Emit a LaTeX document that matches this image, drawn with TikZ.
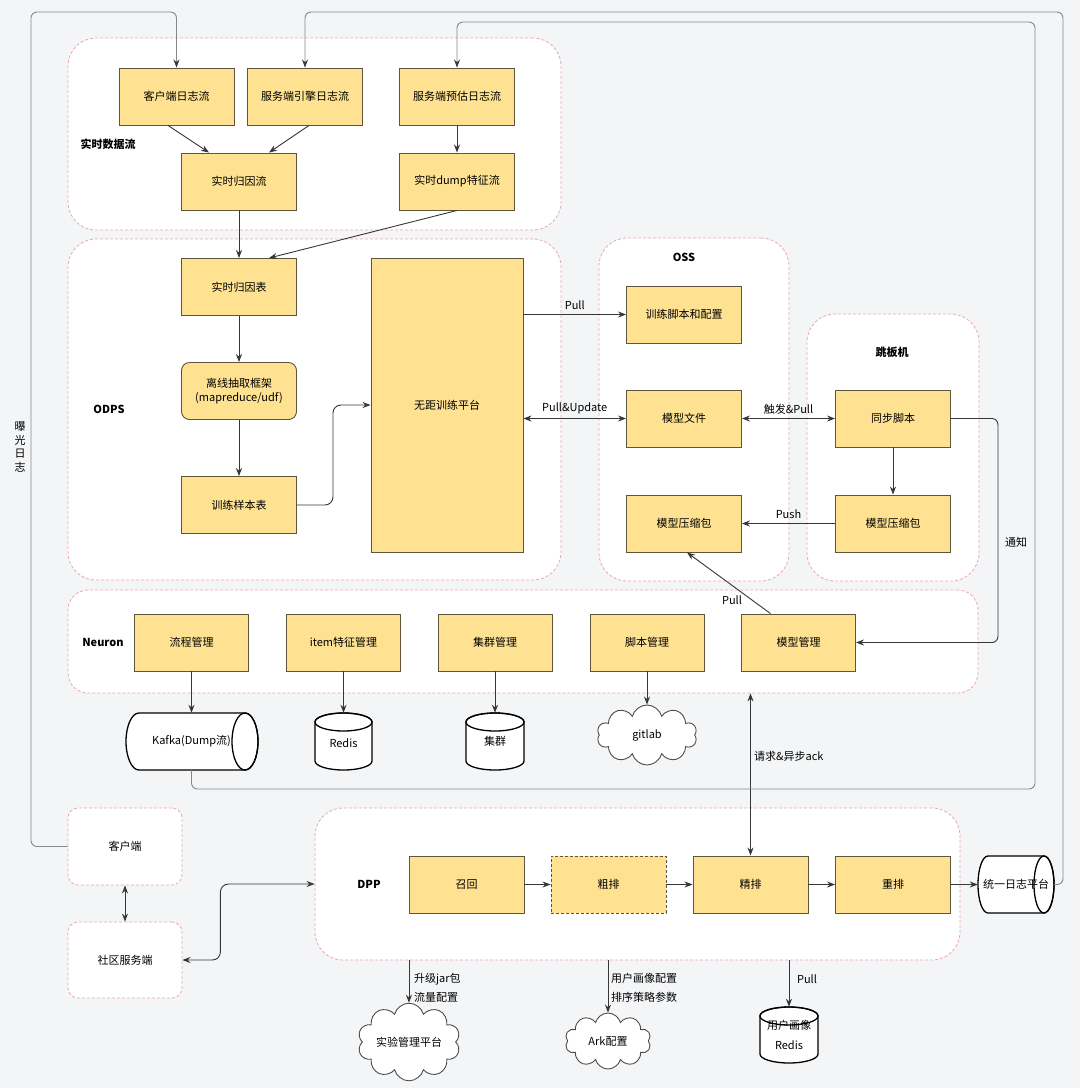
\documentclass[tikz,border=0pt]{standalone}
\usepackage{fontspec}
\setmainfont{Noto Sans CJK SC}
\usetikzlibrary{arrows.meta,shapes.symbols,calc}
\definecolor{bgc}{RGB}{244,245,247}
\definecolor{boxfill}{RGB}{254,225,145}
\definecolor{boxline}{RGB}{95,85,60}
\definecolor{grpline}{RGB}{236,168,172}
\definecolor{conn}{RGB}{55,55,55}
\definecolor{fb}{RGB}{135,135,135}
\begin{document}
\begin{tikzpicture}[x=1pt,y=-1pt,
  font=\fontsize{11}{13}\selectfont,
  box/.style={draw=boxline, fill=boxfill, line width=0.9pt, minimum width=115pt, minimum height=57pt, inner sep=1pt, align=center},
  grp/.style={draw=grpline, fill=white, dash pattern=on 3pt off 2pt, line width=0.8pt, rounded corners=28pt, inner sep=0pt},
  arr/.style={draw=conn, line width=0.9pt, -{Stealth[length=8pt,width=6pt]}},
  darr/.style={draw=conn, line width=0.9pt, {Stealth[length=8pt,width=6pt]}-{Stealth[length=8pt,width=6pt]}},
  fbline/.style={draw=fb, line width=0.9pt, rounded corners=6pt, -{Stealth[length=8pt,width=6pt,color=conn]}},
  lbl/.style={inner sep=1pt},
  glabel/.style={font=\fontsize{11}{13}\selectfont\bfseries},
  cyl/.style={draw=black, fill=white, line width=1.3pt},
  cloudn/.style={cloud, cloud puffs=10, aspect=1.6, draw=black!70, fill=white, line width=0.9pt, inner sep=0pt},
  txt/.style={inner sep=0pt}
]
\fill[bgc] (0,0) rectangle (1080,1088);
\useasboundingbox (0,0) rectangle (1080,1088);

% groups
\node[grp, minimum width=493pt, minimum height=192pt] (g1) at (314.5,134) {};
\node[grp, minimum width=493pt, minimum height=341pt] (g2) at (314.5,409.5) {};
\node[grp, minimum width=190pt, minimum height=343pt] (g3) at (694,409.5) {};
\node[grp, minimum width=172pt, minimum height=267pt] (g4) at (893,447.5) {};
\node[grp, minimum width=910pt, minimum height=103pt, rounded corners=20pt] (g5) at (523,641.5) {};
\node[grp, minimum width=114pt, minimum height=77pt, rounded corners=10pt] (g6) at (125,846.5) {客户端};
\node[grp, minimum width=114pt, minimum height=76pt, rounded corners=10pt] (g7) at (125,960) {社区服务端};
\node[grp, minimum width=645pt, minimum height=152pt] (g8) at (637.5,884) {};

% group labels
\node[glabel] (l1) at (108,144) {实时数据流};
\node[glabel] (l2) at (109,409) {ODPS};
\node[glabel] (l3) at (684,257) {OSS};
\node[glabel] (l4) at (892,352) {跳板机};
\node[glabel] (l5) at (103,642) {Neuron};
\node[glabel] (l8) at (369,884) {DPP};

% real-time stream
\node[box] (k1) at (176.5,96.5) {客户端日志流};
\node[box] (e1) at (305,96.5) {服务端引擎日志流};
\node[box] (p1) at (457,96.5) {服务端预估日志流};
\node[box] (rt1) at (239,181.5) {实时归因流};
\node[box] (d1) at (457,181.5) {实时dump特征流};

% ODPS
\node[box] (rtb) at (239,287) {实时归因表};
\node[box, rounded corners=8pt, font=\fontsize{11}{14}\selectfont] (lx) at (239,391) {离线抽取框架\\(mapreduce/udf)};
\node[box] (ts) at (239,505) {训练样本表};
\node[box, minimum width=152pt, minimum height=294pt] (pf) at (447,405) {无距训练平台};

% OSS
\node[box] (tc) at (684,314.5) {训练脚本和配置};
\node[box] (mf) at (684,418.5) {模型文件};
\node[box] (zp1) at (684,523.5) {模型压缩包};

% jump host
\node[box] (sync) at (893,418.5) {同步脚本};
\node[box] (zp2) at (893,523.5) {模型压缩包};

% Neuron
\node[box, minimum width=114pt] (lc) at (191.5,642.5) {流程管理};
\node[box, minimum width=114pt] (im) at (343.5,642.5) {item特征管理};
\node[box, minimum width=114pt] (cm) at (495,642.5) {集群管理};
\node[box, minimum width=114pt] (jb) at (647,642.5) {脚本管理};
\node[box, minimum width=114pt] (mm) at (798.5,642.5) {模型管理};

% DPP
\node[box] (zh) at (466.5,884.5) {召回};
\node[box, dash pattern=on 3pt off 2pt] (cp) at (608.5,884.5) {粗排};
\node[box] (jp) at (750.5,884.5) {精排};
\node[box] (cpx) at (893,884.5) {重排};

% Kafka horizontal cylinder
\draw[cyl] (245,713) -- (139,713) arc[start angle=90, end angle=270, x radius=13pt, y radius=28.5pt] -- (245,770) arc[start angle=-90, end angle=90, x radius=13pt, y radius=28.5pt] -- cycle;
\draw[cyl, fill=none] (245,741.5) ellipse [x radius=13pt, y radius=28.5pt];
\node[txt, minimum width=132pt, minimum height=57pt] (kafka) at (191.5,741.5) {Kafka(Dump流)};

% unified log platform horizontal cylinder
\draw[cyl] (1044,856) -- (988,856) arc[start angle=90, end angle=270, x radius=10pt, y radius=28.5pt] -- (1044,913) arc[start angle=-90, end angle=90, x radius=10pt, y radius=28.5pt] -- cycle;
\draw[cyl, fill=none] (1044,884.5) ellipse [x radius=10pt, y radius=28.5pt];
\node[txt, minimum width=76pt, minimum height=57pt] (tyr) at (1016,884.5) {统一日志平台};

% Redis cylinder
\draw[cyl] (315,722) -- (315,761) arc[start angle=180, end angle=360, x radius=28.5pt, y radius=9pt] -- (372,761) -- (372,722) arc[start angle=0, end angle=180, x radius=28.5pt, y radius=9pt] -- cycle;
\draw[cyl, fill=none] (343.5,722) ellipse [x radius=28.5pt, y radius=9pt];
\node[txt, minimum width=57pt, minimum height=57pt, text depth=0pt] (rd1) at (343.5,741.5) {\raisebox{-3pt}{Redis}};

% cluster cylinder
\draw[cyl] (466,722) -- (466,761) arc[start angle=180, end angle=360, x radius=29pt, y radius=9pt] -- (524,761) -- (524,722) arc[start angle=0, end angle=180, x radius=29pt, y radius=9pt] -- cycle;
\draw[cyl, fill=none] (495,722) ellipse [x radius=29pt, y radius=9pt];
\node[txt, minimum width=58pt, minimum height=57pt] (jq) at (495,741.5) {\raisebox{-3pt}{集群}};

% user profile Redis cylinder
\draw[cyl] (760,1016) -- (760,1054) arc[start angle=180, end angle=360, x radius=29pt, y radius=9pt] -- (818,1054) -- (818,1016) arc[start angle=0, end angle=180, x radius=29pt, y radius=9pt] -- cycle;
\draw[cyl, fill=none] (789,1016) ellipse [x radius=29pt, y radius=9pt];
\node[txt, minimum width=58pt, minimum height=56pt, align=center, font=\fontsize{11}{20}\selectfont] (urd) at (789,1035) {用户画像\\Redis};

% clouds
\node[cloudn, minimum width=100pt, minimum height=60pt] (gitlab) at (647,735) {gitlab};
\node[cloudn, minimum width=88pt, minimum height=56pt] (exp) at (409,1042) {实验管理平台};
\node[cloudn, minimum width=86pt, minimum height=56pt] (ark) at (608,1041) {Ark配置};

% connectors: stream
\draw[arr] ($(k1.south)+(-8.5,0)$) -- ($(rt1.north)+(-30,0)$);
\draw[arr] ($(e1.south)+(4,0)$) -- ($(rt1.north)+(30,0)$);
\draw[arr] (p1) -- (d1);
\draw[arr] (rt1) -- (rtb);
\draw[arr] (d1.south) -- ($(rtb.north)+(30,0)$);
\draw[arr] (rtb) -- (lx);
\draw[arr] (lx) -- (ts);
\draw[arr, rounded corners=8pt] (ts.east) -- ++(36,0) |- (pf.west);

% OSS connectors
\draw[arr] (pf.east |- tc.west) -- node[lbl, above=3pt] {Pull} (tc.west);
\draw[darr] (pf.east |- mf.west) -- node[lbl, above=3pt] {Pull\&Update} (mf.west);
\draw[darr] (mf.east) -- node[lbl, above=3pt] {触发\&Pull} (sync.west);
\draw[arr] (sync) -- (zp2);
\draw[arr] (zp2.west) -- node[lbl, above=3pt] {Push} (zp1.east);
\draw[arr] ($(mm.north)+(-28,0)$) -- ($(zp1.south)+(3,0)$);
\node[lbl] (pulllbl) at (732,600) {Pull};
\draw[arr, rounded corners=6pt] (sync.east) -- ++(47,0) |- (mm.east);
\node[lbl] (tz) at (1016,542) {通知};

% Neuron to storage
\draw[arr] (lc.south) -- (kafka.north);
\draw[arr] (im.south) -- (rd1.north);
\draw[arr] (cm.south) -- (jq.north);
\draw[arr] (jb.south) -- (jb.south |- gitlab.north);

% DPP connectors
\draw[darr] (jp.north) -- (jp.north |- g5.south);
\node[lbl, anchor=west] (qq) at (753,756) {请求\&异步ack};
\draw[arr] (zh) -- (cp);
\draw[arr] (cp) -- (jp);
\draw[arr] (jp) -- (cpx);
\draw[arr] (cpx.east) -- (tyr.west);
\draw[darr] (g6.south) -- (g7.north);
\draw[darr, rounded corners=8pt] (g7.east) -- ++(38,0) |- (g8.west);
\draw[arr] (g8.south -| exp.north) -- (exp.north);
\node[lbl, anchor=west, align=left, font=\fontsize{11}{19}\selectfont] (expl) at (413,988) {升级jar包\\流量配置};
\draw[arr] (g8.south -| ark.north) -- (ark.north);
\node[lbl, anchor=west, align=left, font=\fontsize{11}{19}\selectfont] (arkl) at (610,988) {用户画像配置\\排序策略参数};
\draw[arr] (g8.south -| urd.north) -- (urd.north);
\node[lbl] (pl2) at (807,979) {Pull};

% feedback lines
\draw[fbline] (g6.west) -| (31,12) -| (k1.north);
\draw[fbline] (tyr.east) -| (1063,12) -| (e1.north);
\draw[fbline] (kafka.south) |- (1035,789) -- (1035,22) -| (p1.north);
\node[align=center, font=\fontsize{11}{13.5}\selectfont] (bg) at (20,447) {曝\\光\\日\\志};
\end{tikzpicture}
\end{document}
